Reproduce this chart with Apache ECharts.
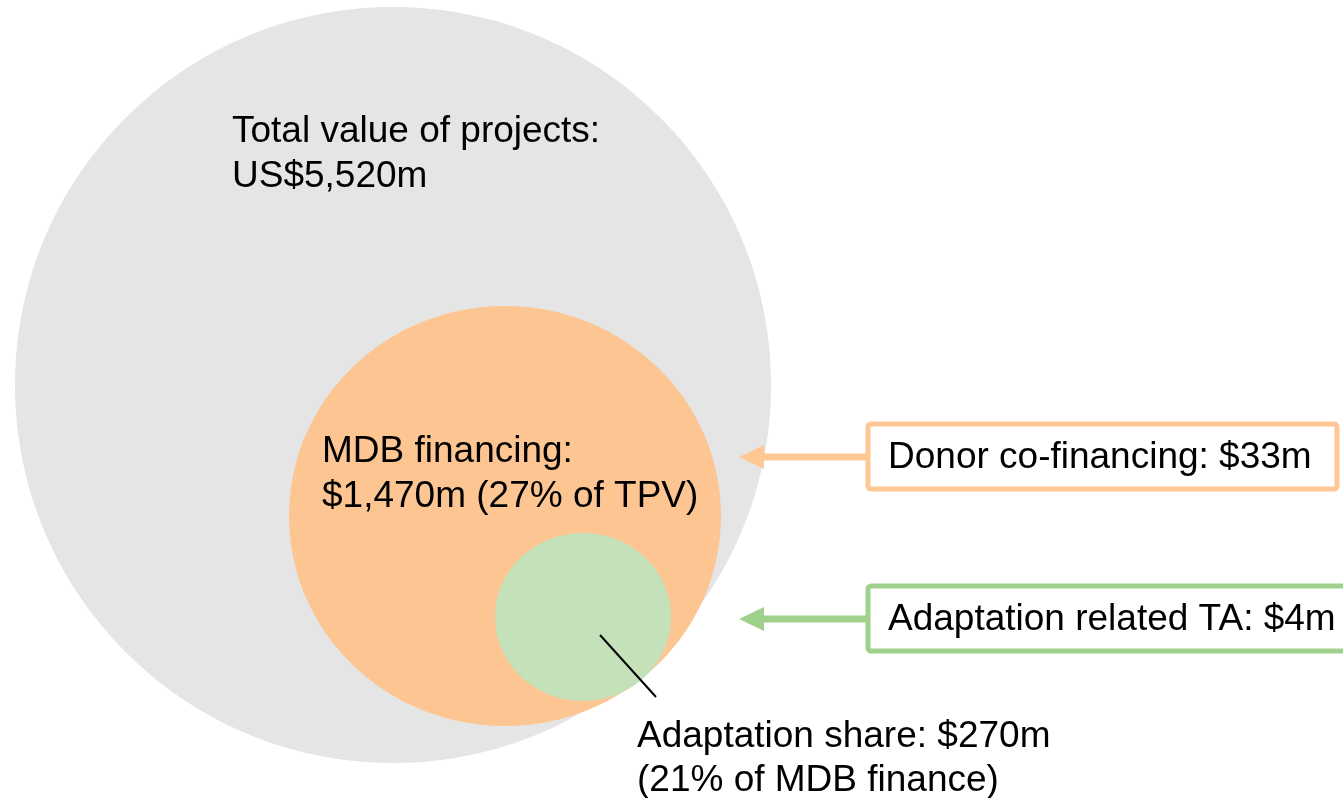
<!DOCTYPE html>
<html>
<head>
<meta charset="utf-8">
<script src="https://cdn.jsdelivr.net/npm/echarts@6/dist/echarts.min.js"></script>
<style>
html,body{margin:0;padding:0;background:#fff;}
#chart{width:1343px;height:798px;}
</style>
</head>
<body>
<div id="chart"></div>
<script>
// ---- data ----
const circleNames = ['Total value of projects', 'MDB financing', 'Adaptation share'];
const circleValues = [5520, 1470, 270];           // US$ millions
const circleShares = [null, 27, 21];              // % of parent
const shareParents = [null, 'TPV', 'MDB finance'];
const sideNames = ['Donor co-financing', 'Adaptation related TA'];
const sideValues = [33, 4];                        // US$ millions

// ---- layout (axis units = pixels of a 1343x798 canvas): cx, cy, rx, ry ----
const circleLayout = [[393, 385, 378, 378], [505, 516, 216, 210], [583, 617, 88, 84]];
const circleColors = ['#E5E5E5', '#FDC592', '#C5E1B9'];
const circleTextPos = [[232, 132, 177], [322, 452, 497], [637, 737, 781]];
const leader = [[600, 635], [656, 697]];
const sideLayout = [
  {box: [868, 424, 1337, 489], arrowY: 457, textY: 458},
  {box: [868, 586, 1346, 651], arrowY: 619, textY: 620}
];
const sideStroke = ['#FEC794', '#A0D18C'];
const arrowTipX = 739, arrowBaseX = 764, textX = 888;
const FONT = '37px "Liberation Sans", Arial, sans-serif';

function money(v) { return v.toLocaleString('en-US'); }
function circleLines(i) {
  if (i === 0) return [circleNames[i] + ':', 'US$' + money(circleValues[i]) + 'm'];
  if (i === 1) return [circleNames[i] + ':', '$' + money(circleValues[i]) + 'm (' + circleShares[i] + '% of ' + shareParents[i] + ')'];
  return [circleNames[i] + ': $' + money(circleValues[i]) + 'm', '(' + circleShares[i] + '% of ' + shareParents[i] + ')'];
}

const chart = echarts.init(document.getElementById('chart'), null, {renderer: 'canvas'});

const circleData = circleLayout.map((c, i) => [c[0], c[1], c[2], c[3], circleValues[i]]);
const sideData = sideLayout.map((s, i) => [s.box[0], s.arrowY, sideValues[i]]);

chart.setOption({
  animation: false,
  grid: {left: 0, right: 0, top: 0, bottom: 0},
  xAxis: {type: 'value', min: 0, max: 1343, show: false},
  yAxis: {type: 'value', min: 0, max: 798, inverse: true, show: false},
  series: [
    {
      type: 'custom',
      coordinateSystem: 'cartesian2d',
      clip: false,
      data: circleData,
      encode: {x: 0, y: 1},
      renderItem: function (params, api) {
        const i = params.dataIndex;
        const c = api.coord([api.value(0), api.value(1)]);
        const sz = api.size([api.value(2), api.value(3)]);
        const children = [{
          type: 'ellipse',
          shape: {cx: c[0], cy: c[1], rx: sz[0], ry: sz[1]},
          style: {fill: circleColors[i]}
        }];
        if (i === 2) {
          const a = api.coord(leader[0]), b = api.coord(leader[1]);
          children.push({type: 'line', shape: {x1: a[0], y1: a[1], x2: b[0], y2: b[1]},
            style: {stroke: '#000', lineWidth: 2}});
        }
        return {type: 'group', children: children};
      },
      z: 1
    },
    {
      type: 'custom',
      coordinateSystem: 'cartesian2d',
      clip: false,
      data: circleData,
      encode: {x: 0, y: 1},
      renderItem: function (params, api) {
        const i = params.dataIndex;
        const lines = circleLines(i);
        const tp = circleTextPos[i];
        const p1 = api.coord([tp[0], tp[1]]), p2 = api.coord([tp[0], tp[2]]);
        return {type: 'group', children: [
          {type: 'text', style: {text: lines[0], x: p1[0], y: p1[1], font: FONT, fill: '#000', align: 'left', verticalAlign: 'middle'}},
          {type: 'text', style: {text: lines[1], x: p2[0], y: p2[1], font: FONT, fill: '#000', align: 'left', verticalAlign: 'middle'}}
        ]};
      },
      z: 5
    },
    {
      type: 'custom',
      coordinateSystem: 'cartesian2d',
      clip: false,
      data: sideData,
      encode: {x: 0, y: 1},
      renderItem: function (params, api) {
        const i = params.dataIndex;
        const s = sideLayout[i];
        const b0 = api.coord([s.box[0], s.box[1]]), b1 = api.coord([s.box[2], s.box[3]]);
        const tip = api.coord([arrowTipX, s.arrowY]);
        const base = api.coord([arrowBaseX, s.arrowY]);
        const t = api.coord([textX, s.textY]);
        const col = sideStroke[i];
        return {type: 'group', children: [
          {type: 'line', shape: {x1: b0[0], y1: tip[1], x2: base[0] - 2, y2: tip[1]}, style: {stroke: col, lineWidth: 7}},
          {type: 'polygon', shape: {points: [[tip[0], tip[1]], [base[0], tip[1] - 12], [base[0], tip[1] + 12]]}, style: {fill: col}},
          {type: 'rect', shape: {x: b0[0], y: b0[1], width: b1[0] - b0[0], height: b1[1] - b0[1], r: 3},
            style: {fill: '#fff', stroke: col, lineWidth: 5}},
          {type: 'text', style: {text: sideNames[i] + ': $' + money(sideValues[i]) + 'm', x: t[0], y: t[1], font: FONT, fill: '#000', align: 'left', verticalAlign: 'middle'}}
        ]};
      },
      z: 3
    }
  ]
});
</script>
</body>
</html>
